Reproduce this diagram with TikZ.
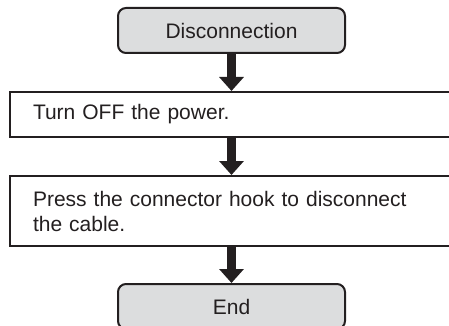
\documentclass[tikz,border=0pt]{standalone}
\usepackage{fontspec}
\setmainfont{Liberation Sans}
\usetikzlibrary{arrows.meta}
\definecolor{ink}{HTML}{231F20}
\definecolor{boxgray}{HTML}{DCDDDE}
\tikzset{
  termbox/.style={draw=ink, line width=2pt, fill=boxgray, rounded corners=8pt,
    minimum width=227pt, minimum height=45pt, inner sep=0pt, text=ink,
    font=\fontsize{21}{25}\selectfont},
  stepbox/.style={draw=ink, line width=2pt, fill=white, anchor=west,
    text width=415pt, align=left, inner xsep=23pt, inner ysep=0pt, text=ink,
    font=\fontsize{21}{25}\selectfont},
  bigarrow/.style={draw=ink, line width=9.5pt,
    -{Triangle[width=24pt,length=14pt,fill=ink]}}
}
\begin{document}
\begin{tikzpicture}[x=1pt,y=-1pt]
\useasboundingbox (0,0) rectangle (449,326);
\clip (0,0) rectangle (449,326);
\node[termbox] (start) at (231.5,30.5) {Disconnection};
\node[stepbox, minimum height=45pt] (s1) at (9,114.5) {Turn OFF the power.};
\node[stepbox, minimum height=70pt] (s2) at (9,211) {Press the connector hook to disconnect\\the cable.};
\node[termbox] (end) at (231.5,306.5) {End};
\draw[bigarrow] (start.south) -- (start.south |- s1.north);
\draw[bigarrow] (start.south |- s1.south) -- (start.south |- s2.north);
\draw[bigarrow] (start.south |- s2.south) -- (end.north);
\end{tikzpicture}
\end{document}
